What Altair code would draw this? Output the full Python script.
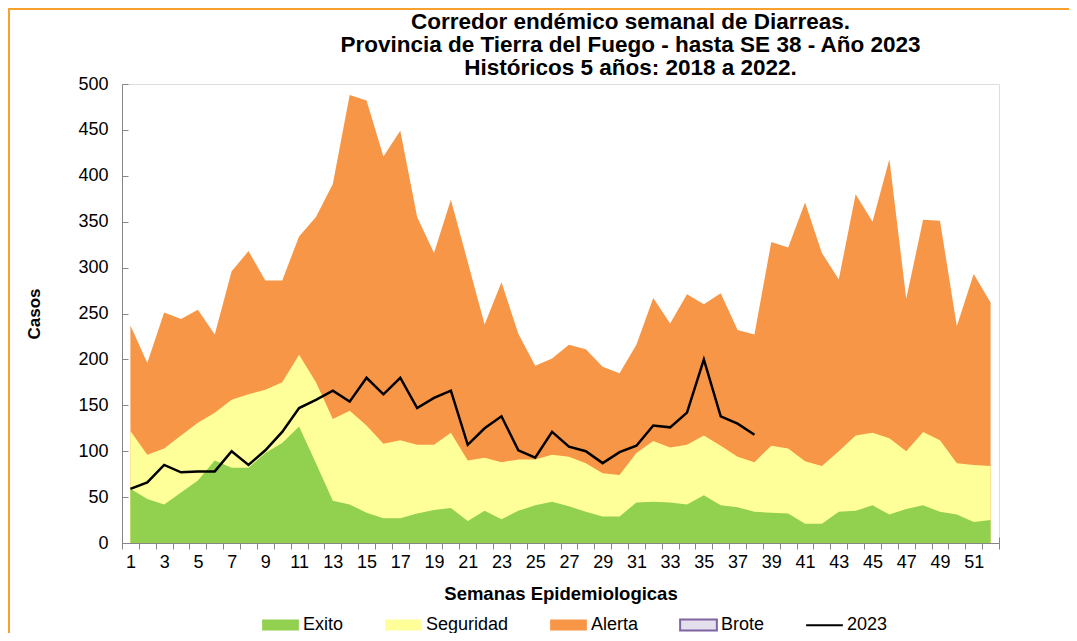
import altair as alt
import pandas as pd

semanas = list(range(1, 53))

exito = [59, 48, 42, 55, 68, 90, 82, 82, 98, 109, 127, 87, 46, 42, 33, 27, 27, 32, 36, 38,
         24, 35, 26, 35, 41, 45, 40, 34, 29, 29, 44, 45, 44, 42, 52, 41, 39, 34, 33, 32,
         21, 21, 34, 35, 41, 31, 37, 41, 34, 31, 23, 25]
seguridad = [122, 96, 103, 117, 131, 142, 156, 162, 167, 175, 205, 175, 135, 144, 128, 108, 112, 107, 107, 120,
             90, 93, 88, 91, 91, 96, 94, 87, 76, 74, 98, 111, 104, 107, 117, 106, 94, 88, 106, 103,
             89, 84, 100, 117, 120, 114, 100, 121, 112, 87, 85, 84]
alerta = [237, 196, 251, 244, 254, 227, 296, 318, 286, 286, 334, 355, 391, 488, 482, 421, 449, 355, 316, 374,
          306, 238, 284, 228, 193, 201, 216, 211, 192, 185, 216, 267, 239, 271, 260, 272, 232, 227, 328, 322,
          371, 316, 287, 380, 350, 418, 266, 352, 351, 236, 293, 262]
casos_2023 = [59, 66, 85, 77, 78, 78, 100, 85, 101, 121, 147, 156, 166, 154, 180, 162, 180, 147, 158, 166,
              107, 125, 138, 101, 93, 121, 105, 100, 87, 99, 106, 128, 126, 142, 200, 138, 130, 118]

series = ["Exito", "Seguridad", "Alerta", "Brote", "2023"]
rellenos = ["#92D050", "#FFFF99", "#F79646", "#E4DFEC", "transparent"]
bordes = ["transparent", "transparent", "transparent", "#8064A2", "#000000"]

titulo = ["Corredor endémico semanal de Diarreas.",
          "Provincia de Tierra del Fuego - hasta SE 38 - Año 2023",
          "Históricos 5 años: 2018 a 2022."]

FONT = "Liberation Sans"
GRAY = "#868686"
W, H = 877, 459
RECT = "M-1,-0.3H1V0.3H-1Z"
LINEA = "M-1,0H1"


def serie_df(nombre, valores):
    return pd.DataFrame({"semana": semanas[:len(valores)], "valor": valores, "serie": nombre})


xscale = alt.Scale(domain=[0.5, 52.5], nice=False, zero=False)
yscale = alt.Scale(domain=[0, 500], nice=False)

axis_x_ticks = alt.Axis(orient="bottom", values=[i + 0.5 for i in range(53)], tickSize=12, offset=-6,
                        domain=False, labels=False, grid=False, tickColor=GRAY, title=None)
axis_y_ticks = alt.Axis(orient="left", values=list(range(0, 501, 50)), tickSize=6, offset=-6,
                        domain=False, labels=False, grid=False, tickColor=GRAY, title=None)
axis_x_main = alt.Axis(orient="bottom", values=list(range(1, 52, 2)), ticks=False, domainColor=GRAY,
                       labelFont=FONT, labelFontSize=18, labelColor="black", labelPadding=10,
                       labelOverlap=False, format="d", grid=False,
                       title="Semanas Epidemiologicas", titleFont=FONT, titleFontSize=18.5,
                       titleFontWeight="bold", titleColor="black", titlePadding=13)
axis_y_main = alt.Axis(orient="left", values=list(range(0, 501, 50)), ticks=False, domainColor=GRAY,
                       labelFont=FONT, labelFontSize=18, labelColor="black", labelPadding=14,
                       format="d", grid=False,
                       title="Casos", titleFont=FONT, titleFontSize=17, titleFontWeight="bold",
                       titleColor="black", titlePadding=34)

legend = alt.Legend(
    orient="none", legendX=139, legendY=521, direction="horizontal", title=None,
    symbolSize=1350, symbolStrokeWidth=2, symbolOpacity=1,
    labelFont=FONT, labelFontSize=18, labelColor="black",
    labelOffset=3, columnPadding=37,
)

capa_alerta = alt.Chart(serie_df("Alerta", alerta)).mark_area(opacity=1, color=rellenos[2]).encode(
    x=alt.X("semana:Q", scale=xscale, axis=axis_x_ticks),
    y=alt.Y("valor:Q", scale=yscale, axis=axis_y_ticks),
)
capa_seguridad = alt.Chart(serie_df("Seguridad", seguridad)).mark_area(opacity=1, color=rellenos[1]).encode(
    x=alt.X("semana:Q", axis=None),
    y=alt.Y("valor:Q", axis=None),
)
capa_exito = alt.Chart(serie_df("Exito", exito)).mark_area(opacity=1, color=rellenos[0]).encode(
    x=alt.X("semana:Q", axis=None),
    y=alt.Y("valor:Q", axis=None),
)
capa_2023 = alt.Chart(serie_df("2023", casos_2023)).mark_line(strokeWidth=2.5, color=bordes[4]).encode(
    x=alt.X("semana:Q", axis=axis_x_main),
    y=alt.Y("valor:Q", axis=axis_y_main),
)

capa_leyenda = alt.Chart(alt.Data(values=[])).mark_point(opacity=1).encode(
    fill=alt.Fill("serie:N", scale=alt.Scale(domain=series, range=rellenos), legend=legend),
    stroke=alt.Stroke("serie:N", scale=alt.Scale(domain=series, range=bordes), legend=legend),
    shape=alt.Shape("serie:N", scale=alt.Scale(domain=series, range=[RECT, RECT, RECT, RECT, LINEA]), legend=legend),
)

marco = alt.Data(values=[{"k": 1}])
borde_sup = alt.Chart(marco).mark_rule(color="#F7A12E", strokeWidth=2).encode(
    x=alt.value(-114), x2=alt.value(947), y=alt.value(-75))
borde_izq = alt.Chart(marco).mark_rule(color="#F7A12E", strokeWidth=2).encode(
    x=alt.value(-113), y=alt.value(-75), y2=alt.value(549))

chart = alt.layer(capa_alerta, capa_seguridad, capa_exito, capa_2023, capa_leyenda, borde_sup, borde_izq).resolve_axis(
    x="independent", y="independent"
).properties(
    width=W, height=H,
    autosize=alt.AutoSizeParams(type="none"),
    padding={"left": 114, "top": 76, "right": 70, "bottom": 90},
    title=alt.Title(text=titulo, font=FONT, fontSize=22.5, fontWeight="bold", color="black",
                    anchor="middle", frame="group", dx=70, lineHeight=23, offset=-71),
).configure_view(fill="#E6B8B7", stroke=None).configure(background="white")

chart.save("out.html", embed_options={"renderer": "svg", "actions": False})
